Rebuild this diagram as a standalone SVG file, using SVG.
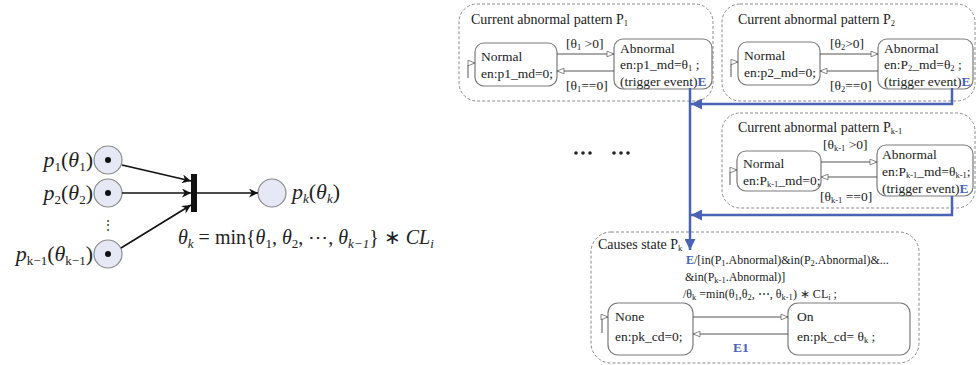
<svg xmlns="http://www.w3.org/2000/svg" width="977" height="365" viewBox="0 0 977 365">
<style>
text{font-family:"Liberation Serif","Times New Roman",serif;fill:#222}
.st{font-size:13.5px}
.tt{font-size:14px}
.m{font-size:20px}
.ml{font-size:22px}
.i{font-style:italic}
.sub{font-size:8.5px}
.msub{font-size:13px}
.grp{fill:none;stroke:#8a8a8a;stroke-width:1;stroke-dasharray:3,2}
.state{fill:#fff;stroke:#7a7a7a;stroke-width:1.2}
.tr{fill:none;stroke:#555;stroke-width:1;marker-end:url(#open)}
.blue{fill:none;stroke:#4a63b5;stroke-width:2.5}
.place{fill:#e6e9f5;stroke:#8a8a8a;stroke-width:1.2}
.arc{stroke:#111;stroke-width:1.6;fill:none;marker-end:url(#blk)}
.E{fill:#4a63b5;font-weight:bold}
</style>
<defs>
<marker id="open" viewBox="0 0 10 10" refX="10" refY="5" markerWidth="9" markerHeight="7" markerUnits="userSpaceOnUse" orient="auto"><path d="M0,1 L10,5 L0,9 Z" fill="#fff" stroke="#555" stroke-width="1"/></marker>
<marker id="bluearr" viewBox="0 0 10 10" refX="10" refY="5" markerWidth="14" markerHeight="11" markerUnits="userSpaceOnUse" orient="auto"><path d="M0,0 L10,5 L0,10 Z" fill="#4a63b5"/></marker>
<marker id="blk" viewBox="0 0 10 10" refX="10" refY="5" markerWidth="12" markerHeight="9" markerUnits="userSpaceOnUse" orient="auto"><path d="M0,0 L10,5 L0,10 L3,5 Z" fill="#111"/></marker>
</defs>

<!-- Left Petri net -->
<g id="place-p1">
<circle class="place" cx="108" cy="160" r="14"/><circle cx="108" cy="160" r="3" fill="#111"/>
<text class="ml" x="93" y="167" text-anchor="end"><tspan class="i">p</tspan><tspan class="msub" dy="4">1</tspan><tspan dy="-4">(</tspan><tspan class="i">θ</tspan><tspan class="msub" dy="4">1</tspan><tspan dy="-4">)</tspan></text>
</g>
<g id="place-p2">
<circle class="place" cx="108" cy="193" r="14"/><circle cx="108" cy="193" r="3" fill="#111"/>
<text class="ml" x="93" y="200" text-anchor="end"><tspan class="i">p</tspan><tspan class="msub" dy="4">2</tspan><tspan dy="-4">(</tspan><tspan class="i">θ</tspan><tspan class="msub" dy="4">2</tspan><tspan dy="-4">)</tspan></text>
<text x="108" y="229" font-size="12" text-anchor="middle">⋮</text>
</g>
<g id="place-pk1">
<circle class="place" cx="108" cy="254" r="14"/><circle cx="108" cy="254" r="3" fill="#111"/>
<text class="ml" x="93" y="261" text-anchor="end"><tspan class="i">p</tspan><tspan class="msub" dy="4">k−1</tspan><tspan dy="-4">(</tspan><tspan class="i">θ</tspan><tspan class="msub" dy="4">k−1</tspan><tspan dy="-4">)</tspan></text>
</g>
<g id="transition">
<rect x="191" y="174" width="6" height="38" fill="#111"/>
<text class="m" x="178" y="244"><tspan class="i">θ</tspan><tspan class="msub i" dy="4">k</tspan><tspan dy="-4"> = min{</tspan><tspan class="i">θ</tspan><tspan class="msub" dy="4">1</tspan><tspan dy="-4">, </tspan><tspan class="i">θ</tspan><tspan class="msub" dy="4">2</tspan><tspan dy="-4">, ⋯, </tspan><tspan class="i">θ</tspan><tspan class="msub i" dy="4">k−1</tspan><tspan dy="-4">} ∗ </tspan><tspan class="i">CL</tspan><tspan class="msub i" dy="4">i</tspan></text>
</g>
<g id="place-pk">
<circle class="place" cx="272" cy="193" r="14"/>
<text class="ml" x="292" y="199"><tspan class="i">p</tspan><tspan class="msub i" dy="4">k</tspan><tspan dy="-4">(</tspan><tspan class="i">θ</tspan><tspan class="msub i" dy="4">k</tspan><tspan dy="-4">)</tspan></text>
</g>
<g id="petri-arcs">
<line class="arc" x1="122" y1="165" x2="191" y2="181"/>
<line class="arc" x1="122" y1="193" x2="191" y2="193"/>
<line class="arc" x1="121" y1="248" x2="191" y2="205"/>
<line class="arc" x1="197" y1="193" x2="258" y2="193"/>
</g>

<!-- dots -->
<g id="ellipsis" fill="#222">
<circle cx="576" cy="153" r="1.8"/><circle cx="583" cy="153" r="1.8"/><circle cx="590" cy="153" r="1.8"/>
<circle cx="614" cy="153" r="1.8"/><circle cx="621" cy="153" r="1.8"/><circle cx="628" cy="153" r="1.8"/>
</g>

<!-- P1 -->
<g id="pattern-P1">
<rect class="grp" x="459" y="4" width="254" height="97" rx="18"/>
<text class="tt" x="471" y="24">Current abnormal pattern P<tspan class="sub" dy="2">1</tspan></text>
<rect class="state" x="475" y="43" width="82" height="43" rx="9"/>
<text class="st" x="481" y="61">Normal</text>
<text class="st" x="481" y="78">en:p1_md=0;</text>
<rect class="state" x="614" y="39" width="98" height="50" rx="9"/>
<text class="st" x="620" y="53">Abnormal</text>
<text class="st" x="620" y="69">en:p1_md=θ<tspan class="sub" dy="2">1</tspan><tspan dy="-2"> ;</tspan></text>
<text class="st" x="620" y="86">(trigger event)<tspan class="E">E</tspan></text>
<line class="tr" x1="557" y1="54" x2="614" y2="54"/>
<line class="tr" x1="614" y1="71" x2="557" y2="71"/>
<text class="st" x="566" y="48">[θ<tspan class="sub" dy="2">1</tspan><tspan dy="-2"> &gt;0]</tspan></text>
<text class="st" x="566" y="90">[θ<tspan class="sub" dy="2">1</tspan><tspan dy="-2">==0]</tspan></text>
<path class="tr" d="M468,78 V66 Q468,63 471,63 H475"/>
</g>

<!-- P2 -->
<g id="pattern-P2">
<rect class="grp" x="722" y="4" width="253" height="97" rx="18"/>
<text class="tt" x="738" y="24">Current abnormal pattern P<tspan class="sub" dy="2">2</tspan></text>
<rect class="state" x="738" y="42" width="82" height="43" rx="9"/>
<text class="st" x="744" y="60">Normal</text>
<text class="st" x="744" y="77">en:p2_md=0;</text>
<rect class="state" x="878" y="39" width="95" height="50" rx="9"/>
<text class="st" x="884" y="53">Abnormal</text>
<text class="st" x="884" y="69">en:P<tspan class="sub" dy="2">2</tspan><tspan dy="-2">_md=θ</tspan><tspan class="sub" dy="2">2</tspan><tspan dy="-2"> ;</tspan></text>
<text class="st" x="884" y="86">(trigger event)<tspan class="E">E</tspan></text>
<line class="tr" x1="820" y1="54" x2="878" y2="54"/>
<line class="tr" x1="878" y1="71" x2="820" y2="71"/>
<text class="st" x="830" y="48">[θ<tspan class="sub" dy="2">2</tspan><tspan dy="-2">&gt;0]</tspan></text>
<text class="st" x="830" y="90">[θ<tspan class="sub" dy="2">2</tspan><tspan dy="-2">==0]</tspan></text>
<path class="tr" d="M731,77 V65 Q731,62 734,62 H738"/>
</g>

<!-- Pk-1 -->
<g id="pattern-Pk-1">
<rect class="grp" x="722" y="113" width="253" height="95" rx="18"/>
<text class="tt" x="738" y="132">Current abnormal pattern P<tspan class="sub" dy="2">k-1</tspan></text>
<rect class="state" x="737" y="151" width="84" height="40" rx="9"/>
<text class="st" x="743" y="168">Normal</text>
<text class="st" x="743" y="185">en:P<tspan class="sub" dy="2">k-1</tspan><tspan dy="-2">_md=0;</tspan></text>
<rect class="state" x="877" y="145" width="96" height="51" rx="9"/>
<text class="st" x="882" y="159">Abnormal</text>
<text class="st" x="882" y="176">en:P<tspan class="sub" dy="2">k-1</tspan><tspan dy="-2">_md=θ</tspan><tspan class="sub" dy="2">k-1</tspan><tspan dy="-2">;</tspan></text>
<text class="st" x="882" y="193">(trigger event)<tspan class="E">E</tspan></text>
<line class="tr" x1="821" y1="162" x2="877" y2="162"/>
<line class="tr" x1="877" y1="177" x2="821" y2="177"/>
<text class="st" x="823" y="149">[θ<tspan class="sub" dy="2">k-1</tspan><tspan dy="-2"> &gt;0]</tspan></text>
<text class="st" x="820" y="201">[θ<tspan class="sub" dy="2">k-1</tspan><tspan dy="-2"> ==0]</tspan></text>
<path class="tr" d="M730,185 V173 Q730,170 733,170 H737"/>
</g>

<!-- Causes state Pk -->
<g id="causes-Pk">
<rect class="grp" x="591" y="232" width="328" height="131" rx="20"/>
<text class="tt" x="598" y="249">Causes state P<tspan class="sub" dy="2">k</tspan></text>
<text x="686" y="264" font-size="12"><tspan class="E" font-weight="normal">E</tspan>/[in(P<tspan class="sub" dy="2">1</tspan><tspan dy="-2">.Abnormal)&amp;in(P</tspan><tspan class="sub" dy="2">2</tspan><tspan dy="-2">.Abnormal)&amp;...</tspan></text>
<text x="685" y="281" font-size="12">&amp;in(P<tspan class="sub" dy="2">k-1</tspan><tspan dy="-2">.Abnormal)]</tspan></text>
<text x="683" y="298" font-size="12">/θ<tspan class="sub" dy="2">k</tspan><tspan dy="-2"> =min(θ</tspan><tspan class="sub" dy="2">1</tspan><tspan dy="-2">,θ</tspan><tspan class="sub" dy="2">2</tspan><tspan dy="-2">, ⋯, θ</tspan><tspan class="sub" dy="2">k-1</tspan><tspan dy="-2">) ∗ CL</tspan><tspan class="sub" dy="2">i</tspan><tspan dy="-2"> ;</tspan></text>
<rect class="state" x="608" y="303" width="85" height="52" rx="10"/>
<text class="st" x="615" y="321">None</text>
<text class="st" x="615" y="341">en:pk_cd=0;</text>
<rect class="state" x="788" y="303" width="122" height="52" rx="10"/>
<text class="st" x="797" y="321">On</text>
<text class="st" x="797" y="341">en:pk_cd= θ<tspan class="sub" dy="2">k</tspan><tspan dy="-2">    ;</tspan></text>
<line class="tr" x1="693" y1="317" x2="788" y2="317"/>
<line class="tr" x1="788" y1="334" x2="693" y2="334"/>
<text class="st E" x="733" y="352">E1</text>
<path class="tr" d="M602,333 V320 Q602,317 605,317 H608"/>
</g>

<!-- blue event connectors -->
<g id="connectors">
<path class="blue" d="M690,88 V250" marker-end="url(#bluearr)"/>
<path class="blue" d="M952,88 V104 H691" marker-end="url(#bluearr)"/>
<path class="blue" d="M952,196 V215 H691" marker-end="url(#bluearr)"/>
</g>
</svg>
